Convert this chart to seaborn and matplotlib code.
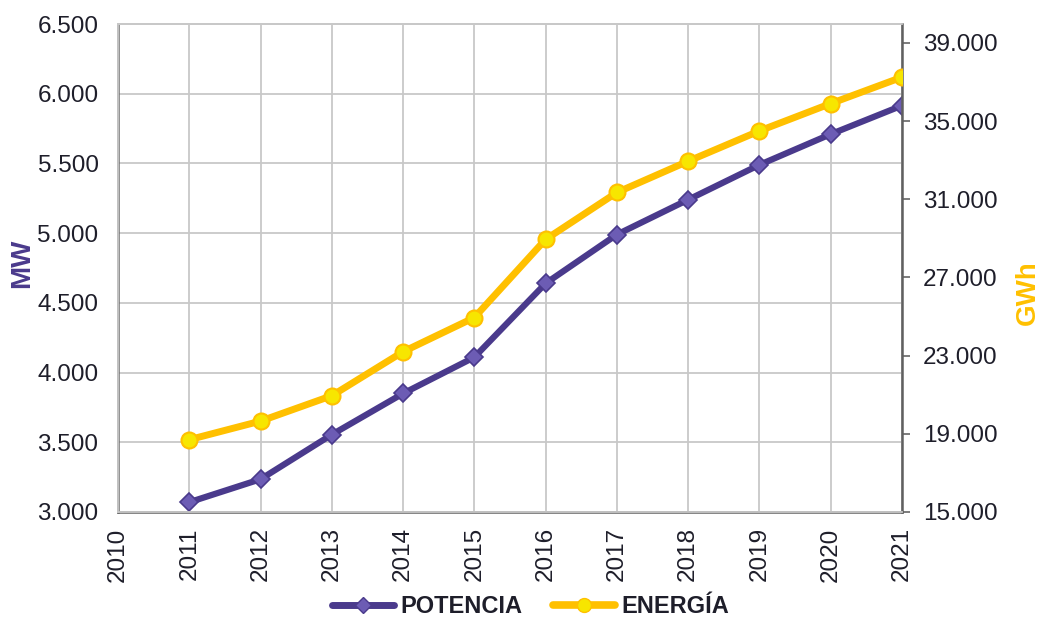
import matplotlib
matplotlib.use('Agg')
import matplotlib.pyplot as plt
import matplotlib.ticker as mticker
from matplotlib.lines import Line2D
import seaborn as sns
import pandas as pd

years = [2011, 2012, 2013, 2014, 2015, 2016, 2017, 2018, 2019, 2020, 2021]
potencia_mw = [3070, 3235, 3555, 3850, 4110, 4640, 4990, 5240, 5490, 5710, 5915]
energia_gwh = [18700, 19650, 20950, 23200, 24950, 28950, 31350, 32950, 34500, 35900, 37250]
x_ticks = list(range(2010, 2022))

sns.set_style('white')
plt.rcParams['font.family'] = ['Liberation Sans', 'DejaVu Sans']

c_pot = '#4a3a8c'
c_pot_m = '#6c5cb4'
c_ene = '#ffc000'
c_ene_m = '#f7e600'
txt = '#1e1e2a'

df = pd.DataFrame({'year': years, 'POTENCIA': potencia_mw, 'ENERGÍA': energia_gwh})

fig = plt.figure(figsize=(10.47, 6.19), dpi=100)
ax = fig.add_axes([0.1127, 0.1729, 0.7488, 0.7883])
ax2 = ax.twinx()

sns.lineplot(data=df, x='year', y='POTENCIA', ax=ax, color=c_pot, lw=4.5,
             marker='D', ms=9.5, mfc=c_pot_m, mec=c_pot, mew=1.2, zorder=3)
sns.lineplot(data=df, x='year', y='ENERGÍA', ax=ax2, color=c_ene, lw=5,
             marker='o', ms=11.5, mfc=c_ene_m, mec=c_ene, mew=1.5, zorder=3)

ax.set_xlim(2010, 2021)
ax.set_ylim(3000, 6500)
ax2.set_ylim(15000, 39970)
ax.set_xticks(x_ticks)
ax.set_yticks(range(3000, 6501, 500))
ax2.set_yticks(range(15000, 39001, 4000))

fmt = mticker.FuncFormatter(lambda v, p: f'{int(v):,}'.replace(',', '.'))
ax.yaxis.set_major_formatter(fmt)
ax2.yaxis.set_major_formatter(fmt)

ax.grid(True, color='#c8c8c8', lw=1.3)
ax.set_axisbelow(True)
ax.tick_params(axis='y', length=0, pad=14, labelsize=17.5, labelcolor=txt)
ax.tick_params(axis='x', length=0, pad=11, labelsize=17.5, labelcolor=txt, rotation=90)
ax2.tick_params(axis='y', length=6, width=1.2, color='#666666', direction='out',
                pad=9, labelsize=17.5, labelcolor=txt)

for a in (ax, ax2):
    for s in a.spines.values():
        s.set_color('#c8c8c8')
        s.set_linewidth(1.3)
ax.spines['left'].set_color('#707070')
ax.spines['bottom'].set_color('#606060')
ax2.spines['right'].set_color('#606060')
ax.spines['left'].set_linewidth(1.8)
ax.spines['bottom'].set_linewidth(1.8)
ax2.spines['right'].set_linewidth(1.8)

ax.set_xlabel('')
ax.set_ylabel('')
ax2.set_ylabel('')
fig.text(0.021, 0.575, 'MW', rotation=90, color=c_pot, fontsize=20,
         fontweight='bold', ha='center', va='center')
fig.text(0.982, 0.527, 'GWh', rotation=90, color=c_ene, fontsize=20,
         fontweight='bold', ha='center', va='center')

handles = [
    Line2D([], [], color=c_pot, lw=5, marker='D', ms=8, mfc=c_pot_m, mec=c_pot),
    Line2D([], [], color=c_ene, lw=5.5, marker='o', ms=10, mfc=c_ene_m, mec=c_ene),
]
leg = fig.legend(handles, ['POTENCIA', 'ENERGÍA'], loc='center',
                 bbox_to_anchor=(0.507, 0.02), ncol=2, frameon=False,
                 handlelength=2.6, columnspacing=1.3, handletextpad=0.3,
                 borderpad=0, prop={'weight': 'bold', 'size': 17})
for t in leg.get_texts():
    t.set_color(txt)

fig.savefig('out.png', dpi=100)
